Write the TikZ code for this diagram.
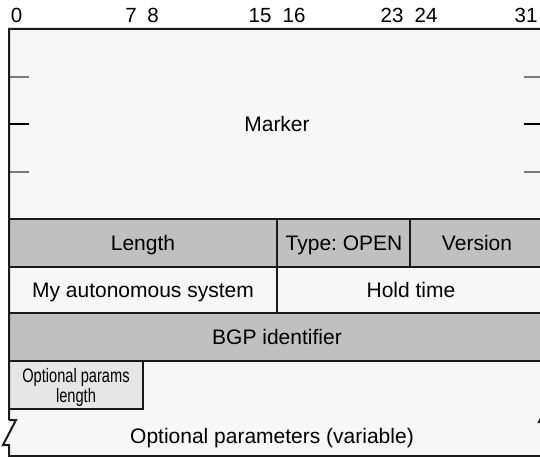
\documentclass[tikz,border=0pt]{standalone}
\usepackage{fontspec}
\setmainfont{Liberation Sans}
\newfontfamily\narrowfont[FakeStretch=0.75]{Liberation Sans}
\definecolor{bgc}{HTML}{F7F7F7}
\definecolor{rowgray}{HTML}{C0C0C0}
\definecolor{boxgray}{HTML}{E6E6E6}
\definecolor{linec}{HTML}{1A1A1A}
\definecolor{tickgray}{HTML}{7A7A7A}
\tikzset{
  fieldtext/.style={inner sep=0pt, anchor=base, font=\fontsize{21}{24}\selectfont, text=black},
  bitnum/.style={inner sep=0pt, anchor=base, font=\fontsize{20.5}{23}\selectfont},
  smalltext/.style={inner sep=0pt, anchor=base, font=\narrowfont\fontsize{19.5}{20}\selectfont},
  frameline/.style={draw=linec, line width=2pt},
  tickline/.style={line width=2pt},
}
\frenchspacing
\begin{document}
\begin{tikzpicture}[x=1pt,y=-1pt]
\useasboundingbox (0,0) rectangle (540,457);
\fill[white] (0,0) rectangle (540,457);
% background of the packet
\fill[bgc] (9,29) -- (545,29) -- (545,397) -- (552,397) -- (539,422) -- (545,422) -- (545,456)
  -- (9,456) -- (9,445) -- (3,445) -- (16,420) -- (9,420) -- cycle;
% shaded rows
\fill[rowgray] (9,219) rectangle (545,267);
\fill[rowgray] (9,313) rectangle (545,361);
\fill[boxgray] (9,361) rectangle (143,409);
% ticks in the marker field
\draw[tickline, tickgray] (9,77) -- (29,77);
\draw[tickline, black] (9,124) -- (29,124);
\draw[tickline, tickgray] (9,172) -- (29,172);
\draw[tickline, tickgray] (524,77) -- (545,77);
\draw[tickline, black] (524,124) -- (545,124);
\draw[tickline, tickgray] (524,172) -- (545,172);
% outline
\draw[frameline, line join=miter] (9,420) -- (9,29) -- (545,29) -- (545,397) -- (552,397) -- (539,422) -- (545,422) -- (545,456)
  -- (9,456) -- (9,445) -- (3,445) -- (16,420) -- (9,420);
% row borders
\draw[frameline] (9,219) -- (545,219);
\draw[frameline] (9,267) -- (545,267);
\draw[frameline] (9,313) -- (545,313);
\draw[frameline] (9,361) -- (545,361);
\draw[frameline] (277,219) -- (277,313);
\draw[frameline] (410,219) -- (410,267);
\draw[frameline] (9,409) -- (143,409) -- (143,361);
% bit numbers
\node[bitnum] (b0) at (16.5,23) {0};
\node[bitnum] (b7) at (131,23) {7};
\node[bitnum] (b8) at (153,23) {8};
\node[bitnum] (b15) at (260,23) {15};
\node[bitnum] (b16) at (294,23) {16};
\node[bitnum] (b23) at (392,23) {23};
\node[bitnum] (b24) at (426,23) {24};
\node[bitnum] (b31) at (526,23) {31};
% field labels
\node[fieldtext] (marker) at (277,132) {Marker};
\node[fieldtext] (length) at (143,250) {Length};
\node[fieldtext] (type) at (344,250) {Type: OPEN};
\node[fieldtext] (version) at (477,250) {Version};
\node[fieldtext] (myas) at (143,297) {My autonomous system};
\node[fieldtext] (hold) at (411,297) {Hold time};
\node[fieldtext] (bgpid) at (277,344) {BGP identifier};
\node[smalltext] (oplen) at (76,382) {Optional params};
\node[smalltext] (oplen2) at (76,402) {length};
\node[fieldtext] (opt) at (272,443) {Optional parameters (variable)};
\end{tikzpicture}
\end{document}
